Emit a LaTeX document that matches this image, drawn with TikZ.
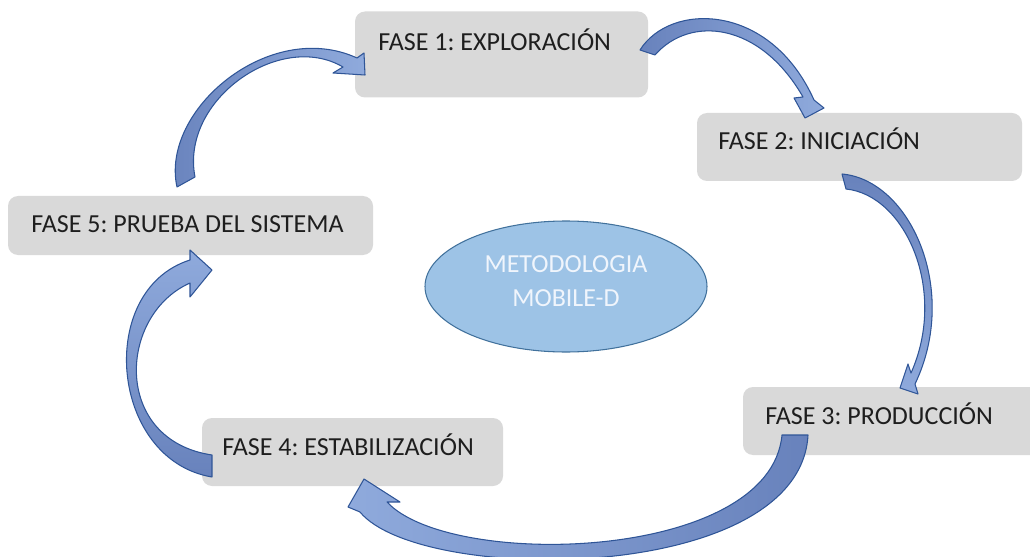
\documentclass[tikz,border=0pt]{standalone}
\usepackage{fontspec}
\setmainfont{Carlito}
\usetikzlibrary{shapes.geometric}
\frenchspacing

\newdimen\px \px=0.02cm

\definecolor{boxgray}{RGB}{217,217,217}
\definecolor{txtgray}{RGB}{30,30,30}
\definecolor{ellfill}{RGB}{157,195,230}
\definecolor{ellline}{RGB}{65,113,156}
\definecolor{ellfont}{RGB}{240,245,252}
\definecolor{arrlight}{RGB}{143,170,220}
\definecolor{arrdark}{RGB}{104,130,188}
\definecolor{arrline}{RGB}{47,85,151}

\tikzset{
  fase/.style={fill=boxgray, rounded corners=10\px, inner sep=0pt},
  fasetxt/.style={anchor=base west, inner sep=0pt, text=txtgray,
    font=\fontsize{14.8}{17}\selectfont},
  arrowbody/.style={draw=arrline, line width=0.6pt, line join=round},
}

\begin{document}
\begin{tikzpicture}[x=\px, y=-\px]
\useasboundingbox (0,0) rectangle (1030,557);

%% fases
\node[fase, minimum width=293\px, minimum height=86\px] (f1) at (501.5,54.5) {};
\node[fase, minimum width=325\px, minimum height=68\px] (f2) at (859.5,147) {};
\node[fase, minimum width=300\px, minimum height=68\px] (f3) at (893,421) {};
\node[fase, minimum width=301\px, minimum height=68\px] (f4) at (352.5,452) {};
\node[fase, minimum width=365\px, minimum height=59\px] (f5) at (190.5,225.5) {};

\node[fasetxt] (t1) at (378,51) {FASE 1: EXPLORACIÓN};
\node[fasetxt] (t2) at (718,150) {FASE 2: INICIACIÓN};
\node[fasetxt] (t3) at (765,424) {FASE 3: PRODUCCIÓN};
\node[fasetxt] (t4) at (222,455) {FASE 4: ESTABILIZACIÓN};
\node[fasetxt] (t5) at (31,233) {FASE 5: PRUEBA DEL SISTEMA};

%% centro
\node[ellipse, fill=ellfill, draw=ellline, line width=0.6pt,
  minimum width=282\px, minimum height=131\px] (md) at (566,286.5) {};
\node[fasetxt, anchor=base, text=ellfont] (m1) at (566,272) {METODOLOGIA};
\node[fasetxt, anchor=base, text=ellfont] (m2) at (566,306) {MOBILE-D};

%% fase 1 -> fase 2
\draw[arrowbody, left color=arrdark, right color=arrlight]
  (640,50) .. controls (670,2) and (770,2) .. (814,100)
  -- (824,108) -- (805,118) -- (794,98) -- (803,97)
  .. controls (760,22) and (690,15) .. (655,55) -- cycle;

%% fase 2 -> fase 3
\draw[arrowbody, top color=arrdark, bottom color=arrlight]
  (842,174) .. controls (910,180) and (960,290) .. (915,384)
  -- (918,394) -- (900,388) -- (908,364) -- (911,373)
  .. controls (948,290) and (905,195) .. (846,189) -- cycle;

%% fase 3 -> fase 4
\draw[arrowbody, left color=arrlight, right color=arrdark]
  (808,435) .. controls (800,585) and (420,585) .. (360,512)
  -- (348,507) -- (364,479) -- (400,502) -- (387,502)
  .. controls (450,570) and (770,562) .. (782,435) -- cycle;

%% fase 4 -> fase 5
\draw[arrowbody, top color=arrlight, bottom color=arrdark]
  (212,477) .. controls (110,460) and (95,290) .. (190,260)
  -- (190,250) -- (212,270) -- (190,297) -- (190,283)
  .. controls (118,315) and (112,440) .. (212,455) -- cycle;

%% fase 5 -> fase 1
\draw[arrowbody, left color=arrdark, right color=arrlight]
  (177,187) .. controls (160,110) and (270,18) .. (357,58)
  -- (364,53) -- (365,75) -- (333,73) -- (343,67)
  .. controls (280,30) and (180,100) .. (195,177) -- cycle;

\end{tikzpicture}
\end{document}
